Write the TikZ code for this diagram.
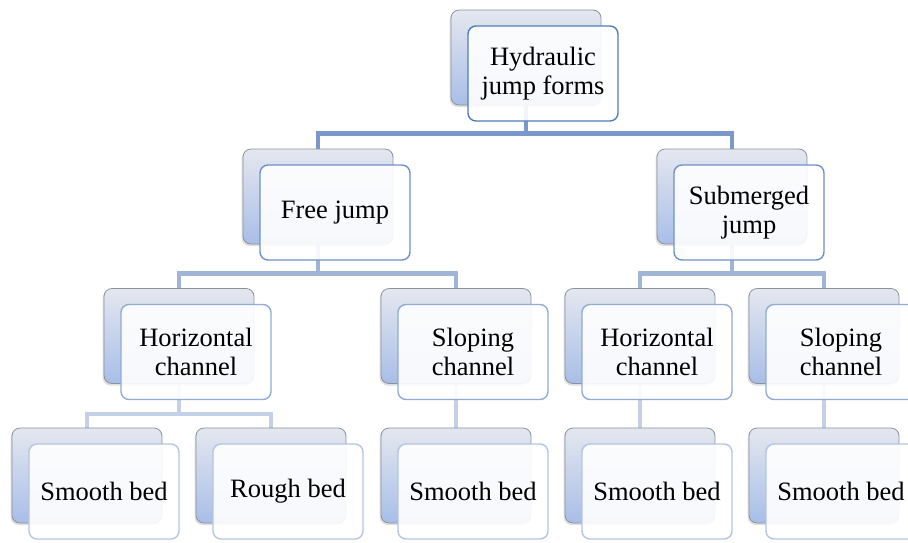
\documentclass[tikz,border=0pt]{standalone}
\usepackage{fontspec}
\setmainfont{Liberation Serif}
\usetikzlibrary{shadows}
\pgfdeclarelayer{bg}
\pgfsetlayers{bg,main}
\definecolor{bd0}{RGB}{79,125,185}
\definecolor{bd1}{RGB}{110,145,200}
\definecolor{bd2}{RGB}{145,170,214}
\definecolor{bd3}{RGB}{180,196,226}
\definecolor{cn0}{RGB}{122,152,202}
\definecolor{cn1}{RGB}{160,180,216}
\definecolor{cn2}{RGB}{196,208,231}
\definecolor{backtop}{RGB}{228,231,239}
\definecolor{backbot}{RGB}{168,190,232}
\tikzset{
  backbox/.style={rectangle, rounded corners=8pt, minimum width=150pt, minimum height=95pt,
    draw={rgb,255:red,140;green,145;blue,155}, line width=0.8pt, top color=backtop, bottom color=backbot,
    drop shadow={shadow xshift=-1.5pt, shadow yshift=-2pt, opacity=0.25}},
  frontbox/.style={rectangle, rounded corners=8pt, minimum width=150pt, minimum height=95pt,
    line width=1.4pt, fill=white, fill opacity=0.9, text opacity=1, align=center,
    font=\fontsize{26.5}{29}\selectfont},
  conn/.style={line width=4.5pt}
}
\newcommand\pairnode[5]{%
  \node[backbox] (#1b) at (#2,#3) {};
  \node[frontbox, draw=#5] (#1) at (#2+17,#3+16) {#4};
}
\begin{document}
\begin{tikzpicture}[x=1pt,y=-1pt]
\useasboundingbox (0,0) rectangle (908,542);
\pairnode{a}{526}{57.5}{Hydraulic\\jump forms}{bd0}
\pairnode{f}{318}{196.5}{Free jump}{bd1}
\pairnode{s}{732}{196.5}{Submerged\\jump}{bd1}
\pairnode{fh}{179}{336}{Horizontal\\channel}{bd2}
\pairnode{fs}{456}{336}{Sloping\\channel}{bd2}
\pairnode{sh}{640}{336}{Horizontal\\channel}{bd2}
\pairnode{ss}{824}{336}{Sloping\\channel}{bd2}
\pairnode{b1}{87}{475.5}{Smooth bed}{bd3}
\pairnode{b2}{271}{475.5}{Rough bed}{bd3}
\pairnode{b3}{456}{475.5}{Smooth bed}{bd3}
\pairnode{b4}{640}{475.5}{Smooth bed}{bd3}
\pairnode{b5}{824}{475.5}{Smooth bed}{bd3}
\begin{pgfonlayer}{bg}
\draw[conn, draw=cn0] (ab.south) -- ++(0,28) coordinate (k0) -| (fb.north);
\draw[conn, draw=cn0] (k0) -| (sb.north);
\draw[conn, draw=cn1] (fb.south) -- ++(0,29) coordinate (k1) -| (fhb.north);
\draw[conn, draw=cn1] (k1) -| (fsb.north);
\draw[conn, draw=cn1] (sb.south) -- ++(0,29) coordinate (k2) -| (shb.north);
\draw[conn, draw=cn1] (k2) -| (ssb.north);
\draw[conn, draw=cn2] (fhb.south) -- ++(0,30) coordinate (k3) -| (b1b.north);
\draw[conn, draw=cn2] (k3) -| (b2b.north);
\draw[conn, draw=cn2] (fsb.south) -- (b3b.north);
\draw[conn, draw=cn2] (shb.south) -- (b4b.north);
\draw[conn, draw=cn2] (ssb.south) -- (b5b.north);
\end{pgfonlayer}
\end{tikzpicture}
\end{document}
